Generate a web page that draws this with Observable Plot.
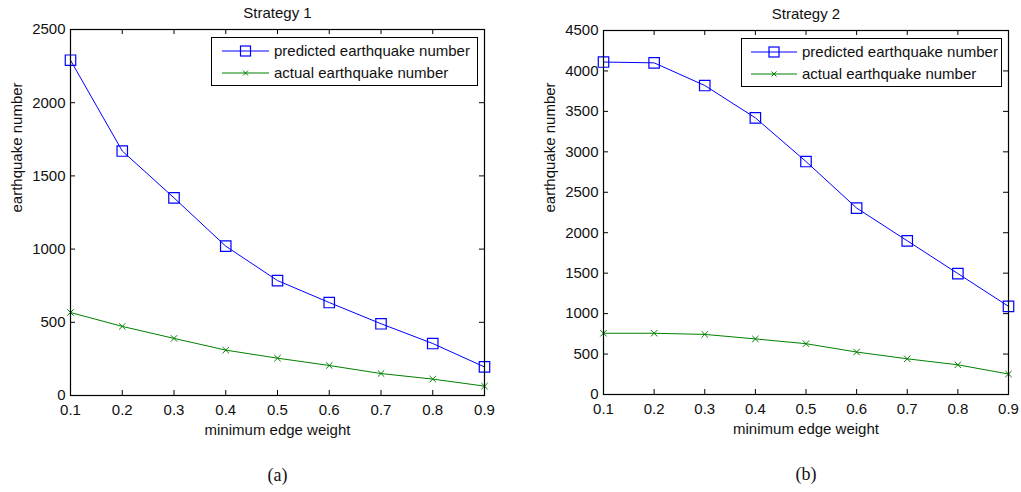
<!DOCTYPE html>
<html>
<head>
<meta charset="utf-8">
<script src="https://cdn.jsdelivr.net/npm/d3@7"></script>
<script src="https://cdn.jsdelivr.net/npm/@observablehq/plot@0.6"></script>
<style>
  html, body { margin: 0; padding: 0; background: #fff; }
  #wrap { position: relative; width: 1021px; height: 492px; background: #fff; overflow: hidden; font-family: "Liberation Sans", Arial, sans-serif; }
  .panel { position: absolute; top: 0; }
  .legend { position: absolute; border: 1.3px solid #000; background: #fff; box-sizing: border-box; font-size: 15px; color: #111; }
  .legend .row { position: absolute; left: 0; height: 20px; }
  .legend .row span { position: absolute; top: 0; line-height: 20px; white-space: nowrap; }
  .legend svg { position: absolute; top: 0; overflow: visible; }
</style>
</head>
<body>
<div id="wrap"></div>
<script>
// ---- data ----
const edgeWeights = [0.1, 0.2, 0.3, 0.4, 0.5, 0.6, 0.7, 0.8, 0.9];
const s1Predicted = [2290, 1670, 1350, 1020, 785, 635, 490, 355, 195];
const s1Actual    = [567, 472, 390, 310, 255, 205, 150, 112, 64];
const s2Predicted = [4110, 4100, 3820, 3420, 2880, 2305, 1900, 1495, 1090];
const s2Actual    = [757, 757, 743, 687, 628, 525, 441, 367, 253];
const yTicks1 = [0, 500, 1000, 1500, 2000, 2500];
const yTicks2 = [0, 500, 1000, 1500, 2000, 2500, 3000, 3500, 4000, 4500];
const seriesNames = ["predicted earthquake number", "actual earthquake number"];
const titles = ["Strategy 1", "Strategy 2"];
const panelLabels = ["(a)", "(b)"];
const xLabel = "minimum edge weight";
const yLabel = "earthquake number";

const BLUE = "#0000ff", GREEN = "#008000";
const FONT = "'Liberation Sans', Arial, sans-serif";

function panel({width, height, mL, mR, mT, mB, yMax, yTicks, pred, act, title, tag}) {
  const innerW = width - mL - mR, innerH = height - mT - mB;
  const predData = edgeWeights.map((x, i) => ({x, y: pred[i]}));
  const actData = edgeWeights.map((x, i) => ({x, y: act[i]}));
  return Plot.plot({
    width, height,
    marginLeft: mL, marginRight: mR, marginTop: mT, marginBottom: mB,
    x: {domain: [0.1, 0.9], axis: null},
    y: {domain: [0, yMax], axis: null},
    style: {fontFamily: FONT, fontSize: "15px", color: "#111", background: "transparent", overflow: "visible"},
    marks: [
      Plot.line(actData, {x: "x", y: "y", stroke: GREEN, strokeWidth: 1}),
      Plot.dot(actData, {x: "x", y: "y", symbol: "times", r: 3, stroke: GREEN, strokeWidth: 1}),
      Plot.line(predData, {x: "x", y: "y", stroke: BLUE, strokeWidth: 1}),
      Plot.dot(predData, {x: "x", y: "y", symbol: "square", r: 5.9, stroke: BLUE, strokeWidth: 1.2, fill: "none"}),
      Plot.frame({stroke: "#000", strokeWidth: 1.2}),
      Plot.tickX(edgeWeights, {x: d => d, stroke: "#000", insetTop: innerH - 5}),
      Plot.tickX(edgeWeights, {x: d => d, stroke: "#000", insetBottom: innerH - 5}),
      Plot.tickY(yTicks, {y: d => d, stroke: "#000", insetRight: innerW - 5}),
      Plot.tickY(yTicks, {y: d => d, stroke: "#000", insetLeft: innerW - 5}),
      Plot.axisX(edgeWeights, {tickSize: 0, tickPadding: 9, tickFormat: d3.format(".1f"), label: null, fontSize: 15}),
      Plot.axisY(yTicks, {tickSize: 0, tickPadding: 5, tickFormat: d3.format("d"), label: null, fontSize: 15}),
      Plot.text([title], {frameAnchor: "top", dy: -16, lineAnchor: "middle", fontSize: 15, fill: "#111"}),
      Plot.text([xLabel], {frameAnchor: "bottom", dy: 35, lineAnchor: "middle", fontSize: 15, fill: "#111"}),
      Plot.text([yLabel], {frameAnchor: "left", dx: -53, rotate: -90, fontSize: 15, fill: "#111"}),
      Plot.text([tag], {frameAnchor: "bottom", dy: 80, lineAnchor: "middle", fontSize: 18, fontFamily: "'Liberation Serif', 'Times New Roman', serif", fill: "#111"})
    ]
  });
}

function legend(left, top, w, lineX0, lineX1, textX) {
  const div = document.createElement("div");
  div.className = "legend";
  Object.assign(div.style, {left: left + "px", top: top + "px", width: w + "px", height: "49px"});
  const rows = [
    {name: seriesNames[0], color: BLUE, marker: "square", cy: 13},
    {name: seriesNames[1], color: GREEN, marker: "times", cy: 35}
  ];
  for (const r of rows) {
    const row = document.createElement("div");
    row.className = "row";
    row.style.top = (r.cy - 10) + "px";
    row.style.width = w + "px";
    const mid = (lineX0 + lineX1) / 2;
    let mk;
    if (r.marker === "square") {
      mk = `<rect x="${mid - 5}" y="5" width="10" height="10" fill="none" stroke="${r.color}" stroke-width="1.2"/>`;
    } else {
      mk = `<path d="M${mid - 2.5},7.5L${mid + 2.5},12.5M${mid - 2.5},12.5L${mid + 2.5},7.5" stroke="${r.color}" stroke-width="1"/>`;
    }
    row.innerHTML = `<svg width="${w}" height="20"><line x1="${lineX0}" x2="${lineX1}" y1="10" y2="10" stroke="${r.color}" stroke-width="1.2"/>${mk}</svg><span style="left:${textX}px">${r.name}</span>`;
    div.appendChild(row);
  }
  return div;
}

const wrap = document.getElementById("wrap");
const p1 = panel({width: 510, height: 492, mL: 70, mR: 26, mT: 29, mB: 97, yMax: 2500, yTicks: yTicks1, pred: s1Predicted, act: s1Actual, title: titles[0], tag: panelLabels[0]});
p1.classList.add("panel"); p1.style.left = "0px";
wrap.appendChild(p1);
const p2 = panel({width: 511, height: 492, mL: 93, mR: 13, mT: 30, mB: 98, yMax: 4500, yTicks: yTicks2, pred: s2Predicted, act: s2Actual, title: titles[1], tag: panelLabels[1]});
p2.classList.add("panel"); p2.style.left = "510px";
wrap.appendChild(p2);

wrap.appendChild(legend(211, 37, 267, 10, 57, 62));
wrap.appendChild(legend(741, 38, 261, 9, 55, 60));
</script>
</body>
</html>
